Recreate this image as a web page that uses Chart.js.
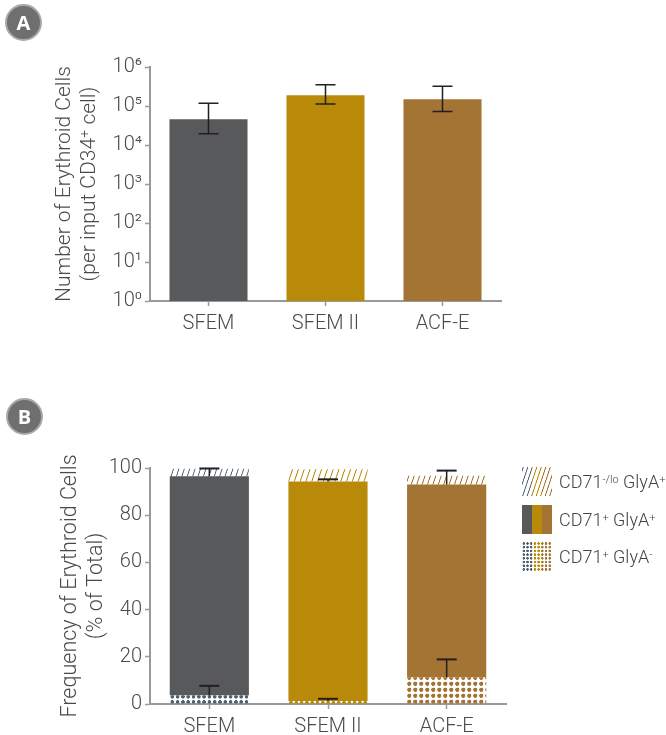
<!DOCTYPE html>
<html>
<head>
<meta charset="utf-8">
<script src="https://cdn.jsdelivr.net/npm/chart.js@4"></script>
<style>
body { margin: 0; background: #fff; width: 666px; height: 735px; position: relative; overflow: hidden; font-family: Roboto, sans-serif; font-weight: 300; color: #444; }
canvas { position: absolute; left: 0; }
.badge { position: absolute; width: 33px; height: 33px; border-radius: 50%; background: #6f6f6f; border: 2.5px solid #a9a9a9; color: #fff; font: bold 20px/33px "Open Sans", sans-serif; text-align: center; }
.leg { position: absolute; left: 559px; font-size: 18px; white-space: nowrap; line-height: 20px; }
.leg sup { font-size: 11px; line-height: 0; vertical-align: 5px; }
</style>
</head>
<body>
<canvas id="chartA" width="666" height="345" style="top:0"></canvas>
<canvas id="chartB" width="666" height="345" style="top:390px"></canvas>
<div class="badge" style="left:5px;top:4px">A</div>
<div class="badge" style="left:6px;top:398px">B</div>
<div class="leg" style="top:472px">CD71<sup>-/lo</sup> GlyA<sup>+</sup></div>
<div class="leg" style="top:510px">CD71<sup>+</sup> GlyA<sup>+</sup></div>
<div class="leg" style="top:547px">CD71<sup>+</sup> GlyA<sup>-</sup></div>
<script>
//chart A values
var categories = ['SFEM', 'SFEM II', 'ACF-E'];
var cellCounts = [46000, 190000, 150000];
var cellCountsLow = [19500, 113000, 72000];
var cellCountsHigh = [117000, 350000, 320000];
var logTicks = [1, 10, 100, 1000, 10000, 100000, 1000000];
var logTickLabels = ['10⁰', '10¹', '10²', '10³', '10⁴', '10⁵', '10⁶'];

//chart B values, stack segments from the bottom up
var glyNeg = [3.7, 1.3, 11.3];
var glyPos = [92.8, 93, 81.7];
var glyLo = [3.2, 5.2, 3.7];
var glyNegErr = [7.7, 2.2, 18.9];
var glyPosErr = [99.8, 95.2, 98.9];

var colors = ['#58595b', '#b98a0a', '#a37433'];
var axisColor = '#999999';
var textColor = '#4a4a4a';
var fontFamily = 'Roboto, sans-serif';

//tiles are drawn 2x or so and scaled down so spacing can be fractional
function hatch(color, spacing) {
	var c = document.createElement('canvas');
	c.width = 12; c.height = 36;
	var g = c.getContext('2d');
	g.strokeStyle = color;
	g.lineWidth = 12 * 1 / spacing;
	g.beginPath();
	[-12, 0, 12].forEach(function(dx) {
		g.moveTo(dx, 36); g.lineTo(dx + 12, 0);
	});
	g.stroke();
	var p = g.createPattern(c, 'repeat');
	p.setTransform(new DOMMatrix().scale(spacing / 12));
	return p;
}

function dots(color, size, cx, cy) {
	var c = document.createElement('canvas');
	c.width = 12; c.height = 12;
	var g = c.getContext('2d');
	g.fillStyle = color;
	g.beginPath();
	g.arc(6, 6, 4.2, 0, Math.PI * 2);
	g.fill();
	var p = g.createPattern(c, 'repeat');
	p.setTransform(new DOMMatrix().translate(cx - size / 2, cy - size / 2).scale(size / 12));
	return p;
}

//draws the error bars through the y scale
function errorBars(topVals, lowVals, startVals, width) {
	return {
		id: 'errorBars',
		afterDatasetsDraw: function(chart) {
			var ctx = chart.ctx, x = chart.scales.x, y = chart.scales.y;
			ctx.save();
			ctx.strokeStyle = '#231f20';
			topVals.forEach(function(v, i) {
				var px = x.getPixelForValue(i);
				var from = lowVals ? lowVals[i] : startVals[i];
				ctx.lineWidth = 1.5;
				ctx.beginPath();
				ctx.moveTo(px, y.getPixelForValue(from));
				ctx.lineTo(px, y.getPixelForValue(v));
				ctx.stroke();
				ctx.lineWidth = width;
				ctx.beginPath();
				ctx.moveTo(px - 10, y.getPixelForValue(v));
				ctx.lineTo(px + 10, y.getPixelForValue(v));
				if (lowVals) {
					ctx.moveTo(px - 10, y.getPixelForValue(lowVals[i]));
					ctx.lineTo(px + 10, y.getPixelForValue(lowVals[i]));
				}
				ctx.stroke();
			});
			ctx.restore();
		}
	};
}

function xAxis(height) {
	return {
		stacked: true,
		afterFit: function(s) { s.height = height; },
		border: { color: axisColor, width: 2 },
		grid: { drawOnChartArea: false, color: axisColor, tickLength: 5, tickWidth: 1.5, offset: false },
		ticks: { color: textColor, font: { family: fontFamily, size: 20, weight: '300' }, padding: 6, maxRotation: 0 }
	};
}

function yTitle(lines, size) {
	return { display: true, text: lines, color: textColor, font: { family: fontFamily, size: size, weight: '300', lineHeight: 1.2 }, padding: 0 };
}

new Chart(document.getElementById('chartA').getContext('2d'), {
	type: 'bar',
	data: {
		labels: categories,
		datasets: [{ data: cellCounts, backgroundColor: colors, barPercentage: 0.667, categoryPercentage: 1 }]
	},
	options: {
		responsive: false,
		animation: false,
		layout: { padding: { left: 52, top: 67, right: 165, bottom: 0 } },
		plugins: { legend: { display: false }, tooltip: { enabled: false } },
		scales: {
			x: xAxis(44),
			y: {
				type: 'logarithmic',
				min: 1,
				max: 1000000,
				afterFit: function(s) { s.width = 98; },
				afterBuildTicks: function(s) { s.ticks = logTicks.map(function(v) { return { value: v }; }); },
				title: yTitle(['Number of Erythroid Cells', '(per input CD34⁺ cell)'], 21),
				border: { color: axisColor, width: 2 },
				grid: { drawOnChartArea: false, color: axisColor, tickLength: 5, tickWidth: 1.5 },
				ticks: {
					color: textColor,
					font: { family: fontFamily, size: 20, weight: '300' },
					padding: 3,
					autoSkip: false,
					callback: function(v) { return logTickLabels[logTicks.indexOf(v)]; }
				}
			}
		}
	},
	plugins: [errorBars(cellCountsHigh, cellCountsLow, null, 1.5)]
});

new Chart(document.getElementById('chartB').getContext('2d'), {
	type: 'bar',
	data: {
		labels: categories,
		datasets: [
			{ data: glyNeg, backgroundColor: [dots('#4f6070', 5.3, 172.3, 312), dots('#b98a0a', 5.3, 291, 312.7), dots('#a37433', 6, 409.3, 311.7)], barPercentage: 0.667, categoryPercentage: 1 },
			{ data: glyPos, backgroundColor: colors, barPercentage: 0.667, categoryPercentage: 1 },
			{ data: glyLo, backgroundColor: [hatch('#5b6b7a', 5.4), hatch('#b98a0a', 5.8), hatch('#a37433', 5.4)], barPercentage: 0.667, categoryPercentage: 1 }
		]
	},
	options: {
		responsive: false,
		animation: false,
		layout: { padding: { left: 58, top: 78, right: 160, bottom: 0 } },
		plugins: { legend: { display: false }, tooltip: { enabled: false } },
		scales: {
			x: xAxis(31),
			y: {
				stacked: true,
				min: 0,
				max: 100,
				afterFit: function(s) { s.width = 92; },
				title: yTitle(['Frequency of Erythroid Cells', '(% of Total)'], 21.5),
				border: { color: axisColor, width: 2 },
				grid: { drawOnChartArea: false, color: axisColor, tickLength: 5, tickWidth: 1.5 },
				ticks: { stepSize: 20, color: textColor, font: { family: fontFamily, size: 20, weight: '300' }, padding: 3 }
			}
		}
	},
	plugins: [
		errorBars(glyPosErr, null, [96.5, 94.3, 93], 2),
		errorBars(glyNegErr, null, glyNeg, 2),
		{
			//legend swatches, three colour strips per pattern
			id: 'swatches',
			afterDraw: function(chart) {
				var ctx = chart.ctx;
				[[77, [hatch('#5b6b7a', 4.5), hatch('#b98a0a', 4.5), hatch('#a37433', 4.5)]],
				 [115, colors],
				 [152, [dots('#4f6070', 3.7, 523.8, 153.5), dots('#b98a0a', 3.7, 523.8, 153.5), dots('#a37433', 3.7, 523.8, 153.5)]]].forEach(function(row) {
					row[1].forEach(function(fill, i) {
						ctx.fillStyle = fill;
						ctx.fillRect(522 + i * 10, row[0], 10, 29);
					});
				});
			}
		}
	]
});
</script>
</body>
</html>
